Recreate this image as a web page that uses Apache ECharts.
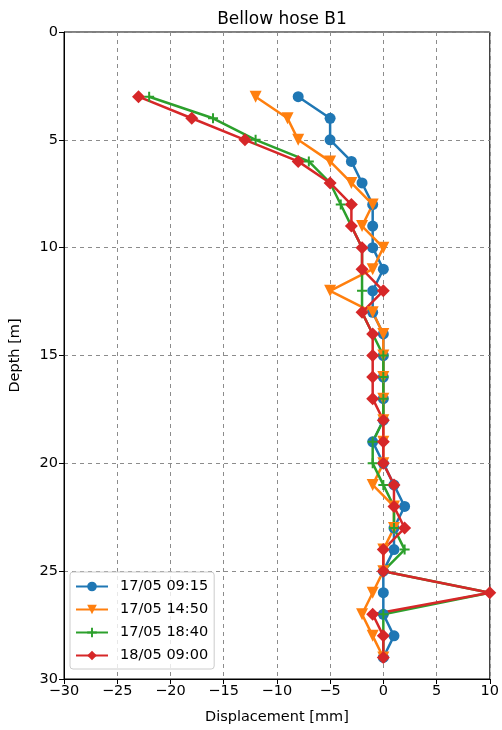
<!DOCTYPE html>
<html>
<head>
<meta charset="utf-8">
<script src="https://cdn.jsdelivr.net/npm/echarts@6/dist/echarts.min.js"></script>
<style>
  html, body { margin: 0; padding: 0; background: #fff; }
  #chart { width: 502px; height: 730px; }
</style>
</head>
<body>
<div id="chart"></div>
<script>
"use strict";

// depth of each reading [m]
var depths = [3, 4, 5, 6, 7, 8, 9, 10, 11, 12, 13, 14, 15, 16, 17, 18, 19, 20, 21, 22, 23, 24, 25, 26, 27, 28, 29];

// displacement [mm] per reading time
var disp0915 = [-8, -5, -5, -3, -2, -1, -1, -1, 0, -1, -1, 0, 0, 0, 0, 0, -1, 0, 1, 2, 1, 1, 0, 0, 0, 1, 0];
var disp1450 = [-12, -9, -8, -5, -3, -1, -2, 0, -1, -5, -1, 0, 0, 0, 0, 0, 0, 0, -1, 1, 1, 0, 0, -1, -2, -1, 0];
var disp1840 = [-22, -16, -12, -7, -5, -4, -3, -2, -2, -2, -2, -1, 0, 0, 0, 0, -1, -1, 0, 1, 1, 2, 0, 10, 0, 0, 0];
var disp0900 = [-23, -18, -13, -8, -5, -3, -3, -2, -2, 0, -2, -1, -1, -1, -1, 0, 0, 0, 1, 1, 2, 0, 0, 10, -1, 0, 0];

var seriesNames = ['17/05 09:15', '17/05 14:50', '17/05 18:40', '18/05 09:00'];
var xTicks = [-30, -25, -20, -15, -10, -5, 0, 5, 10];
var yTicks = [0, 5, 10, 15, 20, 25, 30];

var colors = ['#1f77b4', '#ff7f0e', '#2ca02c', '#d62728'];
var symbols = [
  'circle',
  'triangle',
  'path://M4,0H6V4H10V6H6V10H4V6H0V4H4Z',
  'path://M5,0L10,5L5,10L0,5Z'
];
var symbolSizes = [11, 12, 10, 13];
var symbolRotates = [0, 180, 0, 0];

var pairs = function(values) {
  var out = [];
  for (var i = 0; i < values.length; i++) {
    out.push([values[i], depths[i]]);
  }
  return out;
};

var minus = function(v) {
  return String(v).replace('-', '\u2212');
};

var font = 'DejaVu Sans';
var allData = [disp0915, disp1450, disp1840, disp0900];
var series = [];
for (var i = 0; i < allData.length; i++) {
  series.push({
    name: seriesNames[i],
    type: 'line',
    data: pairs(allData[i]),
    symbol: symbols[i],
    symbolSize: symbolSizes[i],
    symbolRotate: symbolRotates[i],
    showAllSymbol: true,
    lineStyle: { width: 2.5, color: colors[i] },
    itemStyle: { color: colors[i], borderWidth: 0 },
    emphasis: { disabled: true },
    animation: false
  });
}

var gridLine = { show: true, lineStyle: { color: '#8c8c8c', type: [4, 4], width: 1 } };

var option = {
  animation: false,
  color: colors,
  title: {
    text: 'Bellow hose B1',
    left: 277,
    top: 6,
    textAlign: 'center',
    textStyle: { fontFamily: font, fontWeight: 'normal', fontSize: 17, color: '#000' }
  },
  grid: {
    left: 62, top: 32, width: 430, height: 647,
    show: true, borderColor: '#000', borderWidth: 1, backgroundColor: '#fff'
  },
  legend: {
    orient: 'vertical',
    left: 70,
    top: 572,
    data: seriesNames,
    itemWidth: 32,
    itemHeight: 12,
    itemGap: 8,
    padding: [7, 6, 6, 5],
    borderColor: '#cccccc',
    borderWidth: 1,
    borderRadius: 3,
    backgroundColor: 'rgba(255,255,255,0.8)',
    textStyle: { fontFamily: font, fontSize: 14.5, color: '#000', padding: [0, 0, 0, 7] }
  },
  xAxis: {
    type: 'value',
    min: xTicks[0],
    max: xTicks[xTicks.length - 1],
    interval: 5,
    name: 'Displacement [mm]',
    nameLocation: 'middle',
    nameGap: 31,
    nameTextStyle: { fontFamily: font, fontSize: 14.5, color: '#000' },
    axisLine: { show: true, onZero: false, lineStyle: { color: '#000', width: 1 } },
    axisTick: { show: true, inside: false, length: 5, lineStyle: { color: '#000' } },
    axisLabel: {
      fontFamily: font, fontSize: 14.5, color: '#000', margin: 5,
      formatter: function(v) { return minus(v); }
    },
    splitLine: gridLine
  },
  yAxis: {
    type: 'value',
    inverse: true,
    min: yTicks[0],
    max: yTicks[yTicks.length - 1],
    interval: 5,
    name: 'Depth [m]',
    nameLocation: 'middle',
    nameGap: 41,
    nameRotate: 90,
    nameTextStyle: { fontFamily: font, fontSize: 14.5, color: '#000' },
    axisLine: { show: true, onZero: false, lineStyle: { color: '#000', width: 1 } },
    axisTick: { show: true, inside: false, length: 5, lineStyle: { color: '#000' } },
    axisLabel: { fontFamily: font, fontSize: 14.5, color: '#000', margin: 6 },
    splitLine: gridLine
  },
  series: series
};

var chart = echarts.init(document.getElementById('chart'), null, { renderer: 'canvas' });
chart.setOption(option);
</script>
</body>
</html>
